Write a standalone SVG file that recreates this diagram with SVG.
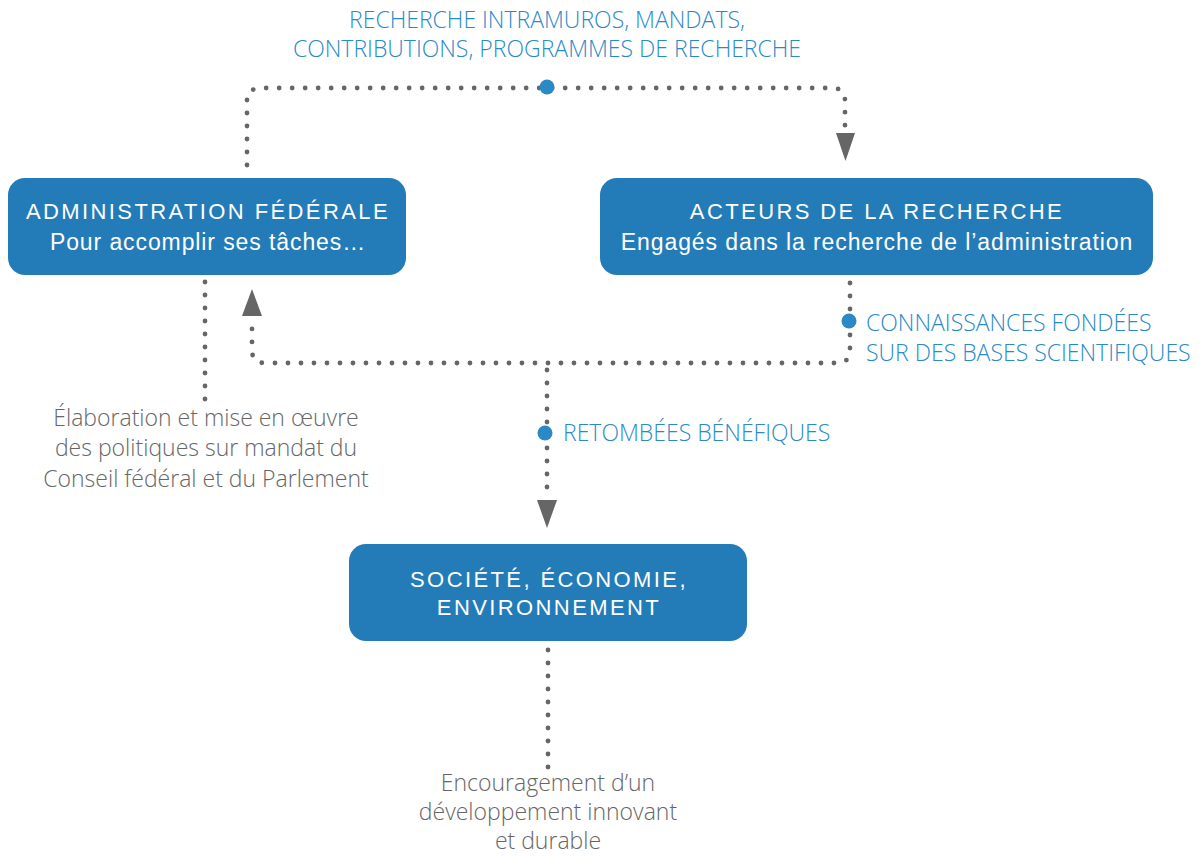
<svg xmlns="http://www.w3.org/2000/svg" width="1203" height="857" viewBox="0 0 1203 857">
<defs>
<style>
.box{fill:#237cb7;}
.bt{font-family:"Liberation Sans",Arial,sans-serif;font-size:23px;fill:#ffffff;text-anchor:middle;letter-spacing:0.9px;}
.cap{font-size:22px;letter-spacing:2.4px;}
.lbl{font-family:"Open Sans","Noto Sans",sans-serif;font-weight:300;font-size:23px;fill:#2a8ac8;}
.gry{font-family:"Open Sans","Noto Sans",sans-serif;font-weight:300;font-size:23px;fill:#666666;text-anchor:middle;}
.dot{fill:none;stroke:#666666;stroke-width:4.8;stroke-linecap:round;stroke-dasharray:0 13;}
.bd{fill:#2a8ac8;}
.ah{fill:#666666;}
</style>
</defs>
<rect width="1203" height="857" fill="#ffffff"/>
<g id="connectors">
<path class="dot" d="M247,165 L247,100 Q247,88 262,88 L832,88 Q845,88 845,101 L845,132"/>
<polygon class="ah" points="836,133 855,133 845.5,161"/>
<path class="dot" d="M850,283 L850,350 Q850,363 837,363 L265,363 Q252,363 252,350 L252,320"/>
<polygon class="ah" points="242,316 262,316 252,289"/>
<path class="dot" d="M547,370 L547,497"/>
<polygon class="ah" points="537,500 557,500 547,528"/>
<path class="dot" d="M205,282 L205,402"/>
<path class="dot" d="M548,650 L548,768"/>
<circle class="bd" cx="547" cy="87" r="7.5"/>
<circle class="bd" cx="849" cy="321" r="7.5"/>
<circle class="bd" cx="545" cy="433" r="7.5"/>
</g>
<g id="label-top">
<text class="lbl" x="547" y="28" text-anchor="middle">RECHERCHE INTRAMUROS, MANDATS,</text>
<text class="lbl" x="547" y="57" text-anchor="middle">CONTRIBUTIONS, PROGRAMMES DE RECHERCHE</text>
</g>
<g id="node-admin">
<rect class="box" x="8" y="178" width="398" height="97" rx="17"/>
<text class="bt cap" x="208" y="219">ADMINISTRATION FÉDÉRALE</text>
<text class="bt" x="208" y="250">Pour accomplir ses tâches…</text>
</g>
<g id="node-acteurs">
<rect class="box" x="600" y="178" width="553" height="97" rx="17"/>
<text class="bt cap" x="877" y="219">ACTEURS DE LA RECHERCHE</text>
<text class="bt" x="877" y="250">Engagés dans la recherche de l’administration</text>
</g>
<g id="node-societe">
<rect class="box" x="349" y="544" width="398" height="97" rx="17"/>
<text class="bt cap" x="549" y="587">SOCIÉTÉ, ÉCONOMIE,</text>
<text class="bt cap" x="549" y="615">ENVIRONNEMENT</text>
</g>
<g id="label-connaissances">
<text class="lbl" x="866" y="331">CONNAISSANCES FONDÉES</text>
<text class="lbl" x="866" y="361">SUR DES BASES SCIENTIFIQUES</text>
</g>
<g id="label-retombees">
<text class="lbl" x="563" y="441">RETOMBÉES BÉNÉFIQUES</text>
</g>
<g id="label-elaboration">
<text class="gry" x="206" y="426">Élaboration et mise en œuvre</text>
<text class="gry" x="206" y="456">des politiques sur mandat du</text>
<text class="gry" x="206" y="487">Conseil fédéral et du Parlement</text>
</g>
<g id="label-encouragement">
<text class="gry" x="548" y="791">Encouragement d’un</text>
<text class="gry" x="548" y="820">développement innovant</text>
<text class="gry" x="548" y="849">et durable</text>
</g>
</svg>
